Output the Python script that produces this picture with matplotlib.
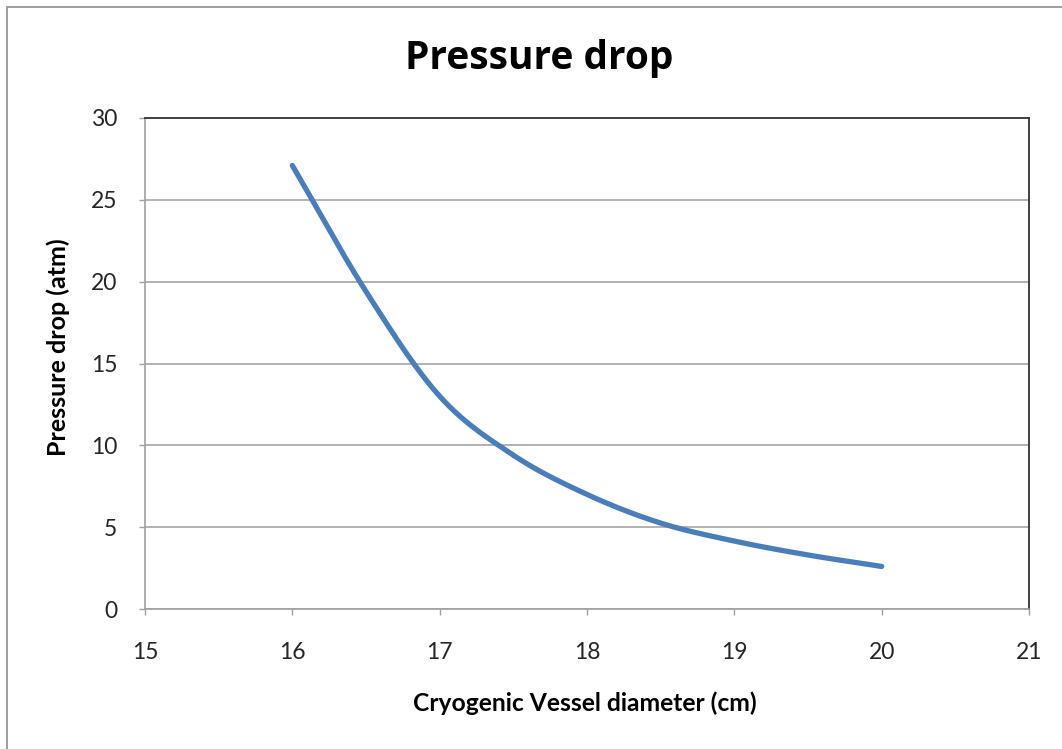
import numpy as np
import matplotlib
import matplotlib.pyplot as plt
from matplotlib.patches import Rectangle

matplotlib.use('Agg')

# --- data --- #
diameter_cm = [16, 16.5, 17, 17.5, 18, 18.5, 19, 19.5, 20]
pressure_drop_atm = [27.1, 19.4, 13.0, 9.4, 7.0, 5.25, 4.15, 3.3, 2.6]

x_ticks = [15, 16, 17, 18, 19, 20, 21]
y_ticks = [0, 5, 10, 15, 20, 25, 30]


def smooth_line(xs, ys, steps=40):
    # Catmull-Rom curve through the points (same idea as a "smoothed line" chart)
    xs = np.asarray(xs, float)
    ys = np.asarray(ys, float)
    px = np.concatenate([[2 * xs[0] - xs[1]], xs, [2 * xs[-1] - xs[-2]]])
    py = np.concatenate([[2 * ys[0] - ys[1]], ys, [2 * ys[-1] - ys[-2]]])
    out_x, out_y = [], []
    t = np.linspace(0, 1, steps)
    for i in range(1, len(px) - 2):
        for arr, out in ((px, out_x), (py, out_y)):
            p0, p1, p2, p3 = arr[i - 1], arr[i], arr[i + 1], arr[i + 2]
            out.extend(0.5 * (2 * p1 + (-p0 + p2) * t
                              + (2 * p0 - 5 * p1 + 4 * p2 - p3) * t ** 2
                              + (-p0 + 3 * p1 - 3 * p2 + p3) * t ** 3))
    return np.array(out_x), np.array(out_y)


plt.rcParams['font.family'] = ['Lato', 'DejaVu Sans']

W, H = 1062, 749
fig = plt.figure(figsize=(W / 100, H / 100), dpi=100)
fig.patch.set_facecolor('white')

# chart area border
fig.patches.append(Rectangle((7 / W, -0.1), 1.2, (H - 7) / H + 0.1,
                             transform=fig.transFigure, fill=False,
                             edgecolor='#8c8c8c', linewidth=1.2))

left, right, top, bottom = 145, 1029, 118, 609
ax = fig.add_axes([left / W, 1 - bottom / H, (right - left) / W, (bottom - top) / H])

sx, sy = smooth_line(diameter_cm, pressure_drop_atm)
ax.plot(sx, sy, color='#4a7ebb', linewidth=3.8, solid_capstyle='round', zorder=3)

ax.set_xlim(15, 21)
ax.set_ylim(0, 30)
ax.set_xticks(x_ticks)
ax.set_yticks(y_ticks)
ax.yaxis.grid(True, color='#a6a6a6', linewidth=1.2)
ax.set_axisbelow(True)

for side in ['left', 'bottom']:
    ax.spines[side].set_color('#a0a0a0')
    ax.spines[side].set_linewidth(1.2)
for side in ['top', 'right']:
    ax.spines[side].set_color('#404040')
    ax.spines[side].set_linewidth(1.4)

ax.tick_params(axis='both', colors='#a0a0a0', labelcolor='#262626',
               labelsize=16.5, length=4, width=1)
ax.tick_params(axis='x', pad=20)
ax.tick_params(axis='y', pad=16)

ax.set_xlabel('Cryogenic Vessel diameter (cm)', fontsize=17.7, fontweight='bold')
ax.xaxis.set_label_coords(0.497, (bottom - 703) / (bottom - top), transform=ax.transAxes)
ax.xaxis.label.set_va('center')
ax.set_ylabel('Pressure drop (atm)', fontsize=18, fontweight='bold')
ax.yaxis.set_label_coords((58 - left) / (right - left), (bottom - 347) / (bottom - top))
ax.yaxis.label.set_va('center')

fig.text(539 / W, 1 - 69 / H, 'Pressure drop', fontsize=28, fontweight='bold',
         family=['Open Sans', 'DejaVu Sans'], ha='center', va='baseline')

plt.savefig('out.png', dpi=100)
